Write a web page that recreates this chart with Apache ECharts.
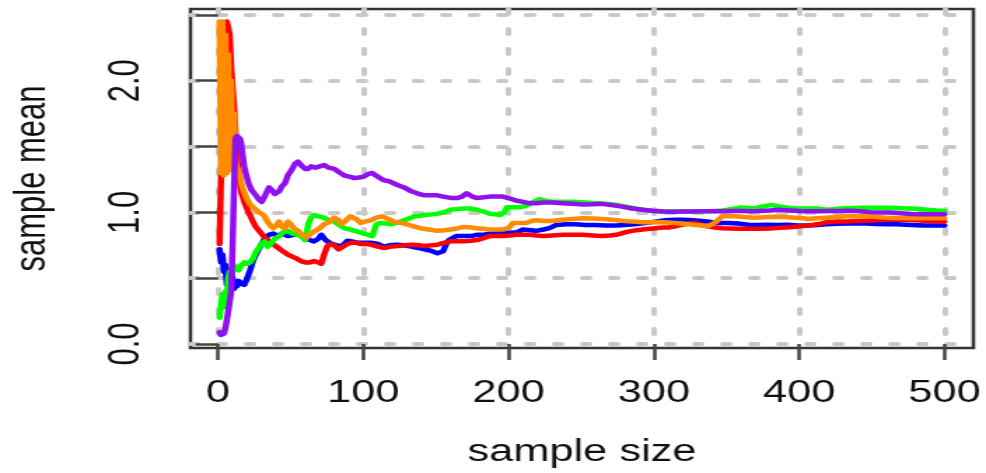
<!DOCTYPE html>
<html>
<head>
<meta charset="utf-8">
<script src="https://cdn.jsdelivr.net/npm/echarts@6/dist/echarts.min.js"></script>
<style>
  html, body { margin: 0; padding: 0; background: #fff; overflow: hidden; }
  #wrap { width: 986px; height: 473px; overflow: hidden; }
  /* the plot is laid out on a narrower canvas and widened, like a resized R device */
  #chart { width: 704px; height: 473px; transform: scaleX(1.4006); transform-origin: 0 0; }
</style>
</head>
<body>
<div id="wrap"><div id="chart"></div></div>
<script>
// running sample means, [sample size, mean]
const blueMeans = [[1,0.72],[2,0.62],[3,0.68],[4,0.55],[5,0.60],[6,0.45],[7,0.52],[8,0.48],[9,0.56],[10,0.50],[11,0.42],[12,0.46],[13,0.44],[14,0.48],[16,0.46],[18,0.45],[20,0.50],[22,0.56],[24,0.63],[26,0.68],[28,0.72],[30,0.76],[32,0.80],[35,0.83],[38,0.84],[41,0.82],[44,0.84],[48,0.82],[52,0.83],[56,0.84],[60,0.81],[63,0.79],[66,0.78],[69,0.80],[71,0.83],[74,0.79],[78,0.76],[82,0.75],[85,0.74],[89,0.785],[92,0.78],[96,0.77],[100,0.77],[105,0.77],[110,0.76],[114,0.74],[118,0.75],[123,0.755],[128,0.75],[133,0.74],[138,0.73],[142,0.72],[146,0.71],[151,0.69],[155,0.705],[157,0.76],[159,0.79],[164,0.82],[169,0.82],[174,0.82],[178,0.83],[183,0.83],[188,0.84],[192,0.84],[197,0.845],[201,0.845],[206,0.85],[210,0.87],[215,0.865],[219,0.86],[224,0.87],[228,0.88],[233,0.905],[240,0.91],[246,0.91],[253,0.905],[260,0.905],[267,0.90],[274,0.90],[280,0.905],[287,0.91],[294,0.92],[301,0.93],[308,0.94],[314,0.944],[320,0.945],[327,0.94],[333,0.935],[338,0.93],[342,0.92],[351,0.92],[358,0.915],[365,0.906],[372,0.905],[378,0.906],[385,0.905],[392,0.906],[399,0.90],[406,0.90],[413,0.905],[419,0.91],[426,0.913],[433,0.915],[440,0.915],[446,0.915],[453,0.912],[460,0.91],[467,0.91],[474,0.906],[481,0.903],[488,0.90],[494,0.90],[500,0.90]];

const redMeans = [[1,0.76],[2,1.25],[3,1.6],[4,1.95],[5,2.25],[6,2.45],[7,2.45],[8,2.35],[9,2.1],[10,1.95],[11,1.8],[12,1.6],[13,1.42],[14,1.32],[15,1.22],[16,1.15],[18,1.08],[21,1.0],[24,0.93],[26,0.89],[29,0.85],[32,0.81],[35,0.78],[39,0.75],[44,0.71],[48,0.68],[53,0.655],[57,0.63],[60,0.62],[63,0.62],[66,0.63],[69,0.62],[71,0.61],[73,0.68],[75,0.74],[77,0.76],[80,0.75],[83,0.72],[86,0.74],[89,0.76],[92,0.77],[95,0.77],[98,0.76],[102,0.76],[105,0.755],[110,0.74],[114,0.73],[119,0.74],[124,0.745],[128,0.75],[133,0.755],[138,0.75],[142,0.745],[147,0.75],[151,0.755],[156,0.77],[160,0.78],[165,0.78],[169,0.78],[174,0.785],[178,0.79],[183,0.805],[187,0.82],[192,0.82],[196,0.82],[201,0.825],[205,0.83],[210,0.83],[215,0.83],[219,0.825],[224,0.82],[230,0.825],[237,0.83],[244,0.83],[251,0.83],[258,0.825],[264,0.82],[270,0.825],[274,0.83],[279,0.845],[283,0.856],[288,0.865],[292,0.87],[297,0.875],[301,0.88],[306,0.885],[310,0.885],[315,0.895],[319,0.906],[324,0.915],[328,0.92],[333,0.905],[337,0.894],[342,0.885],[347,0.88],[353,0.878],[360,0.876],[367,0.876],[374,0.876],[380,0.878],[387,0.884],[394,0.888],[401,0.894],[406,0.90],[410,0.906],[415,0.915],[419,0.926],[426,0.93],[433,0.93],[440,0.935],[446,0.937],[453,0.94],[460,0.944],[467,0.945],[474,0.944],[481,0.94],[488,0.935],[494,0.932],[500,0.93]];

const greenMeans = [[1,0.20],[2,0.30],[3,0.38],[4,0.28],[5,0.40],[6,0.35],[7,0.50],[8,0.55],[9,0.52],[10,0.58],[11,0.60],[12,0.57],[14,0.56],[16,0.60],[18,0.62],[20,0.61],[22,0.62],[24,0.65],[26,0.70],[28,0.73],[30,0.76],[32,0.78],[34,0.74],[36,0.76],[39,0.80],[42,0.82],[45,0.85],[48,0.86],[51,0.84],[54,0.83],[57,0.82],[60,0.79],[61,0.84],[62,0.91],[64,0.96],[66,0.98],[69,0.97],[73,0.96],[76,0.94],[80,0.93],[84,0.90],[87,0.88],[91,0.87],[94,0.86],[97,0.85],[100,0.84],[103,0.83],[106,0.82],[108,0.88],[109,0.91],[112,0.92],[116,0.915],[119,0.91],[124,0.925],[128,0.94],[132,0.955],[135,0.97],[139,0.975],[142,0.98],[147,0.985],[151,0.99],[155,1.0],[160,1.02],[164,1.025],[169,1.03],[173,1.03],[178,1.02],[183,1.005],[187,0.99],[191,0.985],[194,0.98],[197,1.0],[199,1.04],[203,1.04],[208,1.04],[212,1.05],[217,1.08],[221,1.10],[225,1.09],[230,1.08],[235,1.08],[240,1.08],[246,1.08],[253,1.075],[260,1.07],[267,1.065],[274,1.057],[280,1.045],[287,1.03],[293,1.02],[299,1.01],[306,1.008],[314,1.007],[321,1.007],[328,1.007],[335,1.008],[342,1.01],[347,1.015],[351,1.02],[356,1.03],[360,1.037],[365,1.033],[369,1.03],[375,1.045],[381,1.057],[386,1.045],[392,1.035],[397,1.03],[401,1.03],[407,1.03],[412,1.03],[419,1.02],[424,1.025],[428,1.03],[435,1.032],[442,1.035],[451,1.035],[460,1.035],[467,1.033],[474,1.03],[481,1.027],[488,1.02],[494,1.015],[500,1.01]];

const orangeMeans = [[1,2.45],[2,1.30],[3,2.45],[4,1.28],[5,2.35],[6,1.30],[7,2.2],[8,1.32],[9,2.0],[10,1.35],[11,1.75],[12,1.38],[13,1.34],[14,1.30],[15,1.28],[16,1.22],[18,1.15],[20,1.10],[22,1.06],[24,1.04],[26,1.02],[28,1.0],[30,0.99],[32,0.97],[34,0.93],[36,0.90],[38,0.88],[40,0.90],[42,0.93],[44,0.89],[46,0.88],[48,0.93],[50,0.91],[52,0.88],[55,0.86],[58,0.83],[61,0.81],[64,0.84],[67,0.86],[70,0.88],[73,0.91],[77,0.93],[80,0.96],[83,0.94],[85,0.91],[88,0.94],[91,0.97],[95,0.95],[98,0.92],[101,0.93],[105,0.94],[109,0.96],[113,0.97],[117,0.95],[121,0.93],[126,0.92],[130,0.91],[134,0.895],[139,0.88],[145,0.87],[151,0.86],[156,0.865],[160,0.87],[165,0.88],[169,0.89],[174,0.885],[178,0.88],[183,0.875],[187,0.87],[192,0.87],[196,0.87],[200,0.88],[203,0.92],[208,0.92],[212,0.92],[216,0.935],[219,0.94],[224,0.935],[230,0.935],[237,0.944],[244,0.95],[251,0.956],[258,0.953],[264,0.95],[271,0.945],[278,0.936],[285,0.93],[292,0.926],[299,0.925],[306,0.926],[314,0.919],[319,0.915],[324,0.91],[329,0.905],[333,0.90],[337,0.894],[340,0.91],[343,0.93],[347,0.97],[351,0.97],[356,0.97],[362,0.965],[369,0.96],[376,0.963],[383,0.967],[390,0.965],[397,0.96],[403,0.955],[406,0.95],[412,0.955],[419,0.96],[426,0.965],[433,0.97],[440,0.97],[446,0.97],[453,0.965],[460,0.96],[467,0.958],[474,0.955],[481,0.955],[488,0.956],[494,0.957],[500,0.956]];

const purpleMeans = [[1,0.09],[2,0.07],[3,0.08],[4,0.08],[5,0.12],[6,0.18],[7,0.25],[8,0.32],[9,0.40],[10,0.75],[11,1.2],[12,1.56],[13,1.58],[14,1.58],[15,1.56],[16,1.52],[17,1.42],[18,1.35],[19,1.30],[21,1.22],[23,1.17],[26,1.13],[28,1.10],[30,1.08],[32,1.12],[35,1.19],[37,1.17],[39,1.14],[42,1.16],[44,1.20],[46,1.22],[48,1.28],[51,1.33],[53,1.37],[55,1.385],[57,1.36],[60,1.33],[62,1.33],[64,1.35],[67,1.34],[70,1.35],[73,1.36],[76,1.34],[80,1.33],[84,1.30],[87,1.28],[91,1.27],[94,1.26],[97,1.265],[100,1.27],[103,1.29],[106,1.30],[110,1.27],[114,1.245],[118,1.235],[123,1.21],[128,1.19],[133,1.16],[137,1.145],[142,1.13],[146,1.13],[151,1.13],[155,1.12],[160,1.11],[165,1.11],[168,1.12],[171,1.145],[175,1.12],[178,1.11],[183,1.115],[187,1.12],[192,1.12],[196,1.12],[201,1.105],[205,1.09],[210,1.08],[214,1.07],[219,1.07],[224,1.075],[230,1.075],[237,1.07],[244,1.065],[251,1.06],[258,1.062],[264,1.065],[271,1.055],[278,1.044],[285,1.03],[292,1.02],[299,1.012],[306,1.006],[312,1.005],[319,1.006],[326,1.007],[333,1.008],[340,1.008],[347,1.008],[353,1.01],[360,1.01],[366,1.008],[373,1.01],[380,1.015],[386,1.02],[393,1.015],[400,1.01],[407,1.008],[414,1.008],[421,1.01],[428,1.01],[435,1.012],[442,1.008],[449,1.002],[456,1.0],[463,1.0],[470,0.993],[477,0.987],[485,0.986],[492,0.986],[500,0.986]];

const xTicks = [0, 100, 200, 300, 400, 500];
const yTicks = [0, 0.5, 1, 1.5, 2, 2.5];
const yLabelTicks = [0, 1, 2];

const FONT = 'Liberation Sans, Arial, Helvetica, sans-serif';
const gridDash = { color: '#c8c8c8', width: 4, type: [5, 15], cap: 'round' };
const tickStyle = { color: '#444', width: 2.5 };

function runLine(data, color) {
  return {
    type: 'line', data: data, showSymbol: false, silent: true,
    lineStyle: { color: color, width: 4.5, cap: 'round', join: 'round' },
    itemStyle: { color: color }
  };
}

const chart = echarts.init(document.getElementById('chart'), null, { renderer: 'canvas' });
chart.setOption({
  animation: false,
  backgroundColor: '#fff',
  grid: {
    left: 132, right: 9, top: 9, bottom: 122,
    show: true, borderColor: '#333', borderWidth: 2.5, backgroundColor: 'transparent'
  },
  xAxis: {
    type: 'value', min: -19, max: 520,
    name: 'sample size', nameLocation: 'middle', nameGap: 89,
    nameTextStyle: { fontSize: 31, fontFamily: FONT, color: '#111' },
    axisLine: { show: false },
    axisTick: { show: true, length: 16, customValues: xTicks, lineStyle: tickStyle },
    axisLabel: { customValues: xTicks, margin: 30, fontSize: 31, fontFamily: FONT, color: '#111' },
    splitLine: { show: true, lineStyle: gridDash }
  },
  yAxis: {
    type: 'value', min: -0.03, max: 2.545,
    name: 'sample mean', nameLocation: 'middle', nameGap: 97, nameRotate: 90,
    nameTextStyle: { fontSize: 31, fontFamily: FONT, color: '#111' },
    axisLine: { show: false },
    axisTick: { show: true, length: 16, customValues: yTicks, lineStyle: tickStyle },
    axisLabel: {
      customValues: yLabelTicks, rotate: 90, margin: 30, fontSize: 31, fontFamily: FONT, color: '#111',
      formatter: v => v.toFixed(1)
    },
    splitLine: { show: true, lineStyle: gridDash }
  },
  series: [
    runLine(blueMeans, '#0000ff'),
    runLine(redMeans, '#ff0000'),
    runLine(greenMeans, '#00ff00'),
    runLine(orangeMeans, '#ff8c00'),
    runLine(purpleMeans, '#9010f0')
  ]
});
</script>
</body>
</html>
